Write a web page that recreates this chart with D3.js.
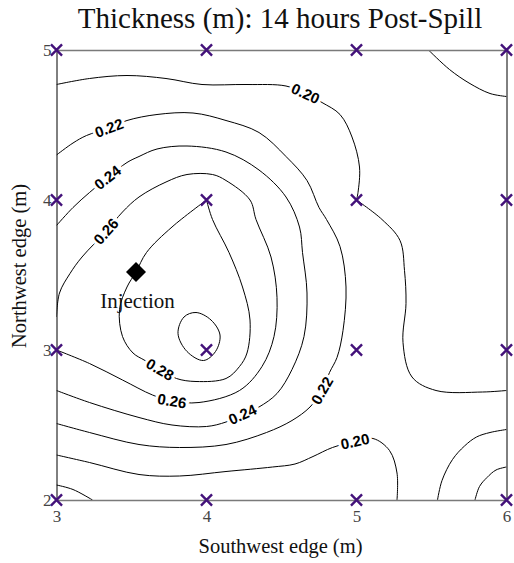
<!DOCTYPE html>
<html>
<head>
<meta charset="utf-8">
<script src="https://cdn.jsdelivr.net/npm/d3@7"></script>
<style>
body { margin: 0; background: white; }
</style>
</head>
<body>
<script>
// grid of sample points (m)
var gridX = [3, 4, 5, 6];
var gridY = [2, 3, 4, 5];
var xTicks = [3, 4, 5, 6];
var yTicks = [2, 3, 4, 5];
var injection = [3.53, 3.52];

// contour lines, [southwest, northwest] in m
var line020top = [[3.00,4.77],[3.22,4.81],[3.47,4.83],[3.73,4.81],[3.97,4.77],[4.27,4.77],[4.53,4.76],[4.66,4.71],[4.77,4.65],[4.89,4.57],[4.97,4.42],[5.02,4.22],[5.01,4.05],[5.00,4.00]];
var line020mid = [[5.00,4.00],[5.17,3.87],[5.29,3.73],[5.32,3.53],[5.33,3.31],[5.31,3.05],[5.37,2.82],[5.53,2.73],[5.84,2.72],[6.00,2.73]];
var line020low = [[3.00,2.30],[3.22,2.25],[3.55,2.17],[3.82,2.16],[4.13,2.19],[4.44,2.22],[4.59,2.24],[4.71,2.29],[4.84,2.35],[4.99,2.39],[5.11,2.41],[5.22,2.33],[5.27,2.18],[5.27,2.00]];
var line022 = [[3.00,4.30],[3.11,4.38],[3.20,4.43],[3.35,4.48],[3.47,4.53],[3.67,4.57],[3.91,4.58],[4.13,4.53],[4.35,4.45],[4.53,4.29],[4.67,4.13],[4.75,3.95],[4.80,3.87],[4.89,3.69],[4.93,3.42],[4.91,3.13],[4.87,2.95],[4.82,2.85],[4.77,2.73],[4.69,2.62],[4.57,2.53],[4.40,2.45],[4.13,2.37],[3.82,2.35],[3.55,2.37],[3.22,2.45],[3.00,2.51]];
var line024 = [[3.00,3.83],[3.11,3.95],[3.22,4.05],[3.34,4.15],[3.47,4.25],[3.55,4.29],[3.67,4.34],[3.87,4.36],[4.13,4.32],[4.35,4.20],[4.53,4.02],[4.62,3.82],[4.64,3.65],[4.67,3.38],[4.65,3.09],[4.57,2.87],[4.47,2.71],[4.35,2.62],[4.24,2.57],[4.13,2.52],[4.00,2.49],[3.77,2.50],[3.55,2.55],[3.22,2.65],[3.00,2.73]];
var line026 = [[3.00,3.22],[3.02,3.38],[3.09,3.51],[3.17,3.62],[3.33,3.79],[3.44,3.92],[3.55,4.02],[3.73,4.12],[3.87,4.17],[4.04,4.17],[4.13,4.13],[4.29,4.00],[4.33,3.87],[4.43,3.62],[4.47,3.35],[4.45,3.09],[4.37,2.89],[4.22,2.73],[3.95,2.65],[3.77,2.66],[3.64,2.70],[3.44,2.80],[3.22,2.91],[3.00,3.00]];
var line028 = [[4.00,4.00],[3.77,3.82],[3.60,3.65],[3.53,3.52],[3.47,3.42],[3.42,3.27],[3.44,3.09],[3.51,2.98],[3.59,2.93],[3.69,2.87],[3.80,2.81],[3.93,2.79],[4.13,2.81],[4.22,2.89],[4.27,2.98],[4.29,3.20],[4.24,3.42],[4.15,3.65],[4.04,3.87],[4.00,4.00]];
var line030 = [[3.93,3.25],[4.03,3.20],[4.09,3.10],[4.06,2.99],[3.98,2.93],[3.87,2.99],[3.81,3.11],[3.85,3.22]];
var cornerBL = [[3.00,2.10],[3.11,2.07],[3.24,2.00]];
var cornerTR = [[5.48,5.00],[5.62,4.87],[5.75,4.78],[5.89,4.71],[6.00,4.69]];
var cornerBR1 = [[5.54,2.00],[5.57,2.13],[5.64,2.27],[5.72,2.36],[5.80,2.42],[5.89,2.45],[6.00,2.47]];
var cornerBR2 = [[5.79,2.00],[5.82,2.09],[5.87,2.15],[5.93,2.20],[6.00,2.22]];

var openLines = [line020top, line020mid, line020low, line022, line024, line026, line028, cornerBL, cornerTR, cornerBR1, cornerBR2];
var closedLines = [line030];

// contour labels
var labelText = ["0.20", "0.22", "0.24", "0.26", "0.28", "0.26", "0.24", "0.22", "0.20"];
var labelLine = [line020top, line022, line024, line026, line028, line026, line024, line022, line020low];
var labelAt = [[4.66,4.71],[3.35,4.48],[3.34,4.15],[3.33,3.79],[3.69,2.87],[3.77,2.66],[4.24,2.57],[4.77,2.73],[4.99,2.39]];

var serif = "'Liberation Serif', 'Times New Roman', serif";

var svg = d3.select("body").append("svg")
            .attr("width", 514)
            .attr("height", 563)
            .style("background", "white");

var x_scale = d3.scaleLinear().domain([3, 6]).range([56.5, 506.5]);
var y_scale = d3.scaleLinear().domain([2, 5]).range([500, 50]);

svg.append("clipPath").attr("id", "plotclip")
   .append("rect")
   .attr("x", x_scale(3)).attr("y", y_scale(5))
   .attr("width", x_scale(6) - x_scale(3))
   .attr("height", y_scale(2) - y_scale(5));

var plot = svg.append("g").attr("clip-path", "url(#plotclip)");

var contour_line = d3.line()
    .x(function(d){ return x_scale(d[0]); })
    .y(function(d){ return y_scale(d[1]); })
    .curve(d3.curveCatmullRom.alpha(0.5));

var closed_line = d3.line()
    .x(function(d){ return x_scale(d[0]); })
    .y(function(d){ return y_scale(d[1]); })
    .curve(d3.curveCatmullRomClosed.alpha(0.5));

plot.selectAll("path.open").data(openLines).enter().append("path")
    .attr("class", "open")
    .attr("d", contour_line)
    .attr("fill", "none")
    .attr("stroke", "black")
    .attr("stroke-width", 1);

plot.selectAll("path.closed").data(closedLines).enter().append("path")
    .attr("class", "closed")
    .attr("d", closed_line)
    .attr("fill", "none")
    .attr("stroke", "black")
    .attr("stroke-width", 1);

// label angle follows the line at the nearest point
function labelAngle(line, pt) {
    var best = 0, bestD = Infinity;
    line.forEach(function(p, i){
        var d = (p[0]-pt[0])*(p[0]-pt[0]) + (p[1]-pt[1])*(p[1]-pt[1]);
        if (d < bestD) { bestD = d; best = i; }
    });
    var a = line[Math.max(0, best-1)], b = line[Math.min(line.length-1, best+1)];
    var ang = Math.atan2(y_scale(b[1]) - y_scale(a[1]), x_scale(b[0]) - x_scale(a[0])) * 180 / Math.PI;
    if (ang > 90) ang -= 180;
    if (ang < -90) ang += 180;
    return ang;
}

plot.selectAll("text.clabel").data(labelText).enter().append("text")
    .attr("class", "clabel")
    .attr("transform", function(d, i){
        return "translate(" + x_scale(labelAt[i][0]) + "," + y_scale(labelAt[i][1]) + ") rotate(" + labelAngle(labelLine[i], labelAt[i]) + ")";
    })
    .attr("text-anchor", "middle")
    .attr("dy", "0.35em")
    .attr("font-family", "'Liberation Sans', Arial, sans-serif")
    .attr("font-weight", "bold")
    .attr("font-size", 15)
    .attr("fill", "black")
    .attr("stroke", "white")
    .attr("stroke-width", 6)
    .attr("paint-order", "stroke")
    .text(function(d){ return d; });

// frame and axes
var xAxis = d3.axisBottom(x_scale).tickValues(xTicks).tickSize(0).tickPadding(9.5).tickFormat(d3.format("d"));
var yAxis = d3.axisLeft(y_scale).tickValues(yTicks).tickSize(0).tickPadding(5).tickFormat(d3.format("d"));

var gx = svg.append("g")
    .attr("transform", "translate(0," + y_scale(2) + ")")
    .call(xAxis);
gx.attr("font-family", serif).attr("font-size", 17);
gx.select(".domain").attr("stroke", "#7a7a7a").attr("stroke-width", 1.6);
gx.selectAll("text").attr("fill", "#444");

var gy = svg.append("g")
    .attr("transform", "translate(" + x_scale(3) + ",0)")
    .call(yAxis);
gy.attr("font-family", serif).attr("font-size", 17);
gy.select(".domain").attr("stroke", "black");
gy.selectAll("text").attr("fill", "#444");

var gtop = svg.append("g")
    .attr("transform", "translate(0," + y_scale(5) + ")")
    .call(d3.axisTop(x_scale).tickValues([]).tickSizeOuter(0));
gtop.select(".domain").attr("stroke", "#7a7a7a").attr("stroke-width", 1.6);

var gright = svg.append("g")
    .attr("transform", "translate(" + x_scale(6) + ",0)")
    .call(d3.axisRight(y_scale).tickValues([]).tickSizeOuter(0));
gright.select(".domain").attr("stroke", "black");

// sample points
svg.selectAll("path.gridpt").data(d3.cross(gridX, gridY)).enter().append("path")
    .attr("class", "gridpt")
    .attr("transform", function(d){ return "translate(" + x_scale(d[0]) + "," + y_scale(d[1]) + ")"; })
    .attr("d", d3.symbol().type(d3.symbolX).size(82))
    .attr("fill", "none")
    .attr("stroke", "#43117a")
    .attr("stroke-width", 2.4);

// injection point
svg.append("path")
    .attr("transform", "translate(" + x_scale(injection[0]) + "," + y_scale(injection[1]) + ") rotate(45)")
    .attr("d", d3.symbol().type(d3.symbolSquare).size(200))
    .attr("fill", "black");

svg.append("text")
    .attr("x", x_scale(injection[0]) + 1.5)
    .attr("y", y_scale(injection[1]) + 36)
    .attr("text-anchor", "middle")
    .attr("font-family", serif)
    .attr("font-size", 21)
    .attr("fill", "#111")
    .text("Injection");

// titles
svg.append("text")
    .attr("x", 280)
    .attr("y", 28)
    .attr("text-anchor", "middle")
    .attr("font-family", serif)
    .attr("font-size", 29)
    .attr("fill", "#111")
    .text("Thickness (m): 14 hours Post-Spill");

svg.append("text")
    .attr("x", 280.5)
    .attr("y", 553)
    .attr("text-anchor", "middle")
    .attr("font-family", serif)
    .attr("font-size", 20.5)
    .attr("fill", "#111")
    .text("Southwest edge (m)");

svg.append("text")
    .attr("transform", "translate(26,266) rotate(-90)")
    .attr("text-anchor", "middle")
    .attr("font-family", serif)
    .attr("font-size", 20.5)
    .attr("fill", "#111")
    .text("Northwest edge (m)");
</script>
</body>
</html>
